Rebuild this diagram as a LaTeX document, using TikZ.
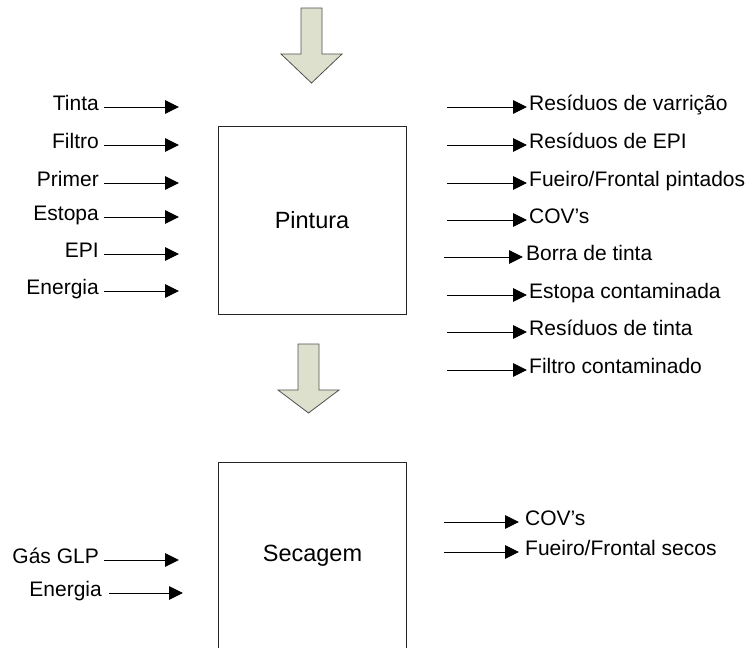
\documentclass[tikz,border=0pt]{standalone}
\usepackage{fontspec}
\setmainfont{Liberation Sans}
\usetikzlibrary{arrows.meta}
\definecolor{flowfill}{RGB}{221,224,204}
\definecolor{flowedge}{RGB}{80,80,80}
\begin{document}
\begin{tikzpicture}[x=1pt,y=-1pt,
  lbl/.style={inner sep=0pt,font=\fontsize{21}{25}\selectfont},
  inlbl/.style={lbl,anchor=base east},
  outlbl/.style={lbl,anchor=base west},
  flow/.style={line width=1pt,-{Triangle[length=14pt,width=13.5pt]}},
  stage/.style={draw=black!85,line width=1pt,minimum width=188pt,minimum height=188pt,
    inner sep=0pt,font=\fontsize{23.5}{28}\selectfont},
  bigarrow/.style={fill=flowfill,draw=flowedge,line width=0.8pt,line join=miter}]
\useasboundingbox (0,0) rectangle (750,648);

% process stages
\node[stage] (pintura) at (312,220) {Pintura};
\node[stage] (secagem) at (312.5,556) {Secagem};

% block arrows into each stage
\draw[bigarrow] (301,8) -- (322,8) -- (322,54) -- (342,54) -- (311.5,83)
  -- (281,54) -- (301,54) -- cycle;
\draw[bigarrow] (298,344) -- (319,344) -- (319,390) -- (339,390) -- (308.5,413)
  -- (278,390) -- (298,390) -- cycle;

% inputs of Pintura
\foreach \name/\txt/\y in {tinta/Tinta/107, filtro/Filtro/145, primer/Primer/183,
    estopa/Estopa/217, epi/EPI/254, energiaP/Energia/291}{
  \node[inlbl] (\name) at (99,\y+3) {\txt};
  \coordinate (\name-a) at (104,\y);
  \coordinate (\name-b) at (179,\y);
  \draw[flow] (\name-a) -- (\name-b);
}

% outputs of Pintura
\foreach \name/\txt/\y/\xa/\xb/\xt in {
    varricao/Resíduos de varrição/107/447/527/529,
    resepi/Resíduos de EPI/145/447/527/529,
    pintados/Fueiro\slash Frontal pintados/183/447/527/529,
    covP/COV’s/220/447/527/529,
    borra/Borra de tinta/257/444/523/526,
    estopac/Estopa contaminada/295/447/527/529,
    restinta/Resíduos de tinta/332/447/527/529,
    filtroc/Filtro contaminado/370/447/527/529}{
  \coordinate (\name-a) at (\xa,\y);
  \coordinate (\name-b) at (\xb,\y);
  \draw[flow] (\name-a) -- (\name-b);
  \node[outlbl] (\name) at (\xt,\y+3) {\txt};
}

% inputs of Secagem
\foreach \name/\txt/\y/\xa/\xb/\xt in {glp/Gás GLP/560/104/179/99,
    energiaS/Energia/593/109/183/102}{
  \node[inlbl] (\name) at (\xt,\y+3) {\txt};
  \coordinate (\name-a) at (\xa,\y);
  \coordinate (\name-b) at (\xb,\y);
  \draw[flow] (\name-a) -- (\name-b);
}

% outputs of Secagem
\foreach \name/\txt/\y in {covS/COV’s/522, secos/Fueiro\slash Frontal secos/552}{
  \coordinate (\name-a) at (444,\y);
  \coordinate (\name-b) at (519,\y);
  \draw[flow] (\name-a) -- (\name-b);
  \node[outlbl] (\name) at (525,\y+3) {\txt};
}
\end{tikzpicture}
\end{document}
